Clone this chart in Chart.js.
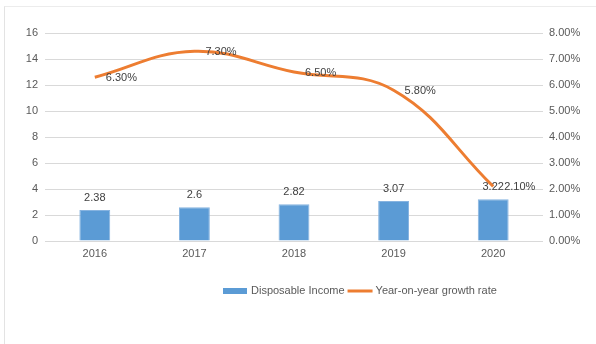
<!DOCTYPE html>
<html>
<head>
<meta charset="utf-8">
<script src="https://cdn.jsdelivr.net/npm/chart.js@4.4.1/dist/chart.umd.min.js"></script>
<style>
  html, body { margin: 0; padding: 0; background: #fff; }
  #wrap { position: relative; width: 596px; height: 344px; overflow: hidden; }
  #frame { position: absolute; left: 4px; top: 6px; width: 600px; height: 400px;
           border-left: 1.5px solid #e3e3e3; border-top: 1.5px solid #ececec; pointer-events: none; }
  canvas { position: absolute; left: 0; top: 0; }
</style>
</head>
<body>
<div id="wrap">
  <canvas id="c" width="596" height="344"></canvas>
  <div id="frame"></div>
</div>
<script>
const categories = ['2016', '2017', '2018', '2019', '2020'];
const disposableIncome = [2.38, 2.6, 2.82, 3.07, 3.22];
const growthRate = [6.30, 7.30, 6.50, 5.80, 2.10];
const leftTicks = { min: 0, max: 16, step: 2 };
const rightTicks = { min: 0, max: 8, step: 1 };
const seriesNames = ['Disposable Income', 'Year-on-year growth rate'];

const FONT = '"Liberation Sans", Arial, Helvetica, sans-serif';
const BLUE = '#5b9bd5';
const ORANGE = '#ed7d31';

const labelPlugin = {
  id: 'valueLabels',
  afterDatasetsDraw(chart) {
    const ctx = chart.ctx;
    ctx.save();
    ctx.font = '11px ' + FONT;
    ctx.fillStyle = '#404040';
    // bar labels
    const m0 = chart.getDatasetMeta(0);
    m0.data.forEach((el, i) => {
      ctx.textAlign = 'center';
      ctx.textBaseline = 'middle';
      ctx.fillText(String(disposableIncome[i]), el.x, el.y - 12);
    });
    // line labels
    const m1 = chart.getDatasetMeta(1);
    m1.data.forEach((el, i) => {
      ctx.textAlign = 'left';
      ctx.textBaseline = 'middle';
      ctx.fillText(growthRate[i].toFixed(2) + '%', el.x + 11, el.y + 1);
    });
    ctx.restore();
  }
};

const legendPlugin = {
  id: 'customLegend',
  afterDraw(chart) {
    const ctx = chart.ctx;
    ctx.save();
    ctx.font = '11px ' + FONT;
    ctx.textBaseline = 'middle';
    ctx.textAlign = 'left';
    const y = 291;
    let x = 223;
    // bar item
    ctx.fillStyle = BLUE;
    ctx.fillRect(x, y - 3, 24, 6);
    x += 28;
    ctx.fillStyle = '#595959';
    ctx.fillText(chart.data.datasets[0].label, x, y);
    x += ctx.measureText(chart.data.datasets[0].label).width + 3;
    // line item
    ctx.strokeStyle = ORANGE;
    ctx.lineWidth = 3;
    ctx.beginPath();
    ctx.moveTo(x, y);
    ctx.lineTo(x + 25, y);
    ctx.stroke();
    x += 28;
    ctx.fillText(chart.data.datasets[1].label, x, y);
    ctx.restore();
  }
};

new Chart(document.getElementById('c'), {
  type: 'bar',
  data: {
    labels: categories,
    datasets: [
      {
        type: 'bar',
        label: seriesNames[0],
        data: disposableIncome,
        backgroundColor: BLUE,
        borderColor: '#86b3e0',
        borderWidth: 1,
        barPercentage: 0.31,
        categoryPercentage: 1,
        yAxisID: 'y',
        order: 2
      },
      {
        type: 'line',
        label: seriesNames[1],
        data: growthRate,
        borderColor: ORANGE,
        backgroundColor: ORANGE,
        borderWidth: 3,
        pointRadius: 0,
        tension: 0.4,
        fill: false,
        yAxisID: 'y1',
        order: 1
      }
    ]
  },
  options: {
    responsive: false,
    animation: false,
    devicePixelRatio: 1,
    layout: { padding: { top: 33, bottom: 62, left: 0, right: 0 } },
    plugins: { legend: { display: false }, tooltip: { enabled: false } },
    scales: {
      x: {
        grid: { display: false, drawTicks: false },
        border: { display: false },
        ticks: { color: '#595959', font: { family: FONT, size: 11 }, padding: 6 },
        afterFit(s) { s.height = 41; }
      },
      y: {
        position: 'left',
        min: leftTicks.min, max: leftTicks.max,
        ticks: { stepSize: leftTicks.step, color: '#595959', font: { family: FONT, size: 11 }, padding: 7 },
        grid: { color: '#d9d9d9', lineWidth: 1, drawTicks: false },
        border: { display: false },
        afterFit(s) { s.width = 45; }
      },
      y1: {
        position: 'right',
        min: rightTicks.min, max: rightTicks.max,
        ticks: { stepSize: rightTicks.step, color: '#595959', font: { family: FONT, size: 11 }, padding: 6,
                 callback: v => Number(v).toFixed(2) + '%' },
        grid: { display: false, drawTicks: false },
        border: { display: false },
        afterFit(s) { s.width = 53; }
      }
    }
  },
  plugins: [labelPlugin, legendPlugin]
});
</script>
</body>
</html>
